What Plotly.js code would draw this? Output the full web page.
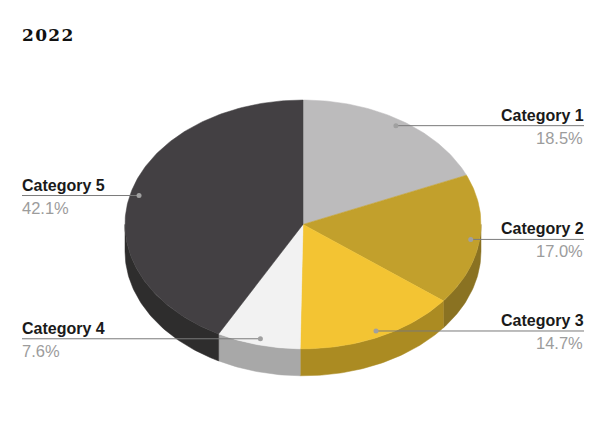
<!DOCTYPE html>
<html>
<head>
<meta charset="utf-8">
<script src="https://cdn.plot.ly/plotly-3.0.1.min.js"></script>
<style>
html,body{margin:0;padding:0;background:#fff}
#chart{width:606px;height:437px}
.gtitle{letter-spacing:1.3px}
</style>
</head>
<body>
<div id="chart"></div>
<script>
const chartTitle = "2022";
const categories = ["Category 1", "Category 2", "Category 3", "Category 4", "Category 5"];
const values = [18.5, 17.0, 14.7, 7.6, 42.1];
const topColors = ["#bcbbbc", "#c2a02c", "#f3c433", "#f2f2f2", "#434043"];
const sideColors = ["#8f8f8f", "#8a7222", "#ab8b22", "#a8a8a8", "#2e2d2d"];

// Pie geometry on a pixel-sized hidden cartesian axis
const cx = 303, cy = 224.4, rx = 178, ry = 124.4, depth = 27;
const total = values.reduce((a, b) => a + b, 0);
const pt = (deg, r, dy) => {
  const a = deg * Math.PI / 180;
  return [cx + rx * r * Math.sin(a), cy - ry * r * Math.cos(a) + (dy || 0)];
};
const arc = (from, to, dy) => {
  const out = [];
  const n = Math.max(2, Math.ceil((to - from) / 1));
  for (let i = 0; i <= n; i++) out.push(pt(from + (to - from) * i / n, 1, dy));
  return out;
};

const traces = [];
const annotations = [];
const sectors = [];
let acc = 0;
values.forEach((v) => {
  const s = acc / total * 360;
  acc += v;
  sectors.push([s, acc / total * 360]);
});

// Side walls (only the front half of the rim is visible)
sectors.forEach(([s, e], i) => {
  const a = Math.max(s, 90), b = Math.min(e, 270);
  if (b <= a) return;
  const poly = arc(a, b, 0).concat(arc(a, b, depth).reverse());
  poly.push(poly[0]);
  traces.push({
    x: poly.map(p => p[0]), y: poly.map(p => p[1]),
    mode: "lines", fill: "toself", fillcolor: sideColors[i],
    line: {color: sideColors[i], width: 0.5}, hoverinfo: "skip"
  });
});

// Top faces
sectors.forEach(([s, e], i) => {
  const poly = [[cx, cy]].concat(arc(s, e, 0));
  poly.push([cx, cy]);
  traces.push({
    x: poly.map(p => p[0]), y: poly.map(p => p[1]),
    mode: "lines", fill: "toself", fillcolor: topColors[i],
    line: {color: topColors[i], width: 0.5}, hoverinfo: "skip"
  });
});

// Leader lines, dots and labels
const leftX = 22, rightX = 584;
sectors.forEach(([s, e], i) => {
  const mid = (s + e) / 2;
  const [dx, dy] = pt(mid, 0.95);
  const isRight = mid < 180;
  const edge = isRight ? rightX : leftX;
  const nudge = isRight ? 1 : -1;
  traces.push({
    x: [dx, edge], y: [dy, dy], mode: "lines",
    line: {color: "#7a7a7a", width: 1}, hoverinfo: "skip"
  });
  traces.push({
    x: [dx], y: [dy], mode: "markers",
    marker: {color: "#a0a0a0", size: 5}, hoverinfo: "skip"
  });
  const anchor = isRight ? "right" : "left";
  annotations.push({
    x: edge, y: dy, xref: "x", yref: "y", xanchor: anchor, yanchor: "bottom",
    text: categories[i], showarrow: false, xshift: nudge, yshift: 1, borderpad: 0,
    font: {family: "Liberation Sans", size: 16, color: "#1a1a1a", weight: 700}
  });
  annotations.push({
    x: edge, y: dy, xref: "x", yref: "y", xanchor: anchor, yanchor: "top",
    text: values[i].toFixed(1) + "%", showarrow: false, xshift: isRight ? 0 : -1, yshift: -2, borderpad: 0,
    font: {family: "Liberation Sans", size: 16.5, color: "#9c9c9c"}
  });
});

const layout = {
  width: 606, height: 437,
  margin: {l: 0, r: 0, t: 0, b: 0},
  paper_bgcolor: "#ffffff", plot_bgcolor: "#ffffff",
  showlegend: false, hovermode: false,
  title: {
    text: "<b>" + chartTitle + "</b>",
    x: 22 / 606, xanchor: "left", y: 1 - 35 / 437, yanchor: "middle",
    font: {family: "DejaVu Serif", size: 17, color: "#111111"}
  },
  xaxis: {visible: false, range: [0, 606], fixedrange: true},
  yaxis: {visible: false, range: [437, 0], fixedrange: true},
  annotations: annotations
};
Plotly.newPlot("chart", traces, layout, {displayModeBar: false, staticPlot: true});
</script>
</body>
</html>
